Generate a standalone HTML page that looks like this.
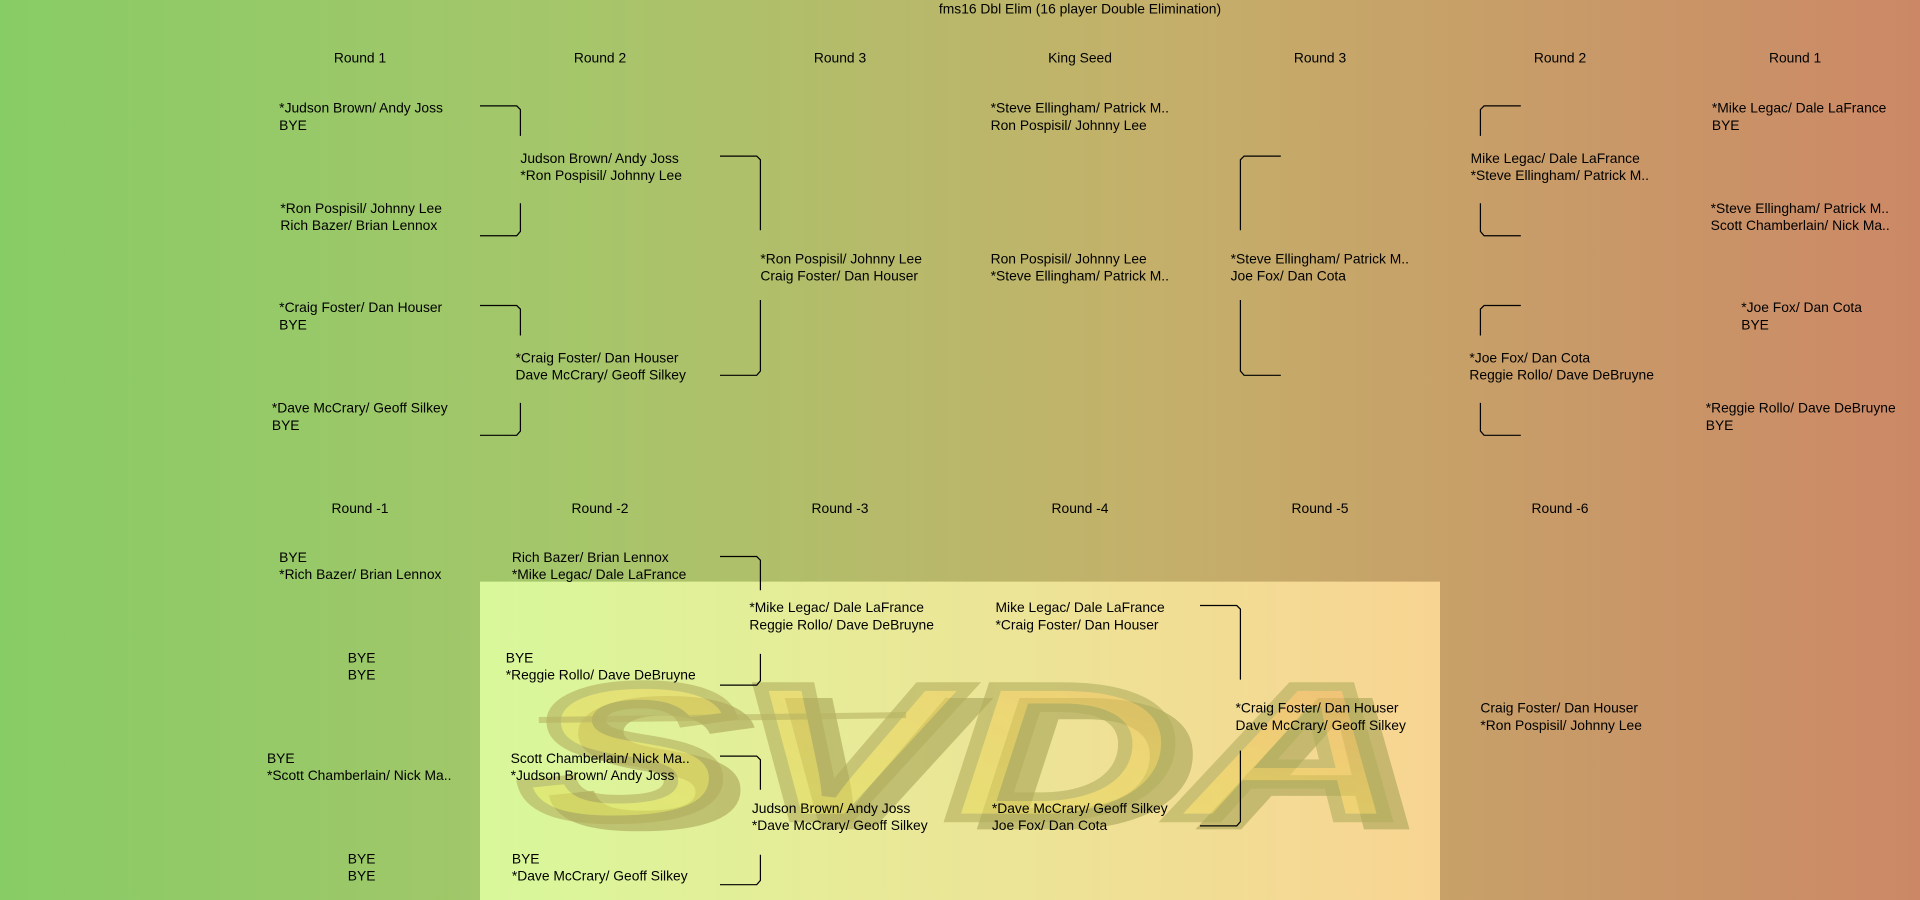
<!DOCTYPE html>
<html><head><meta charset="utf-8"><style>
html,body{margin:0;padding:0;width:1920px;height:900px;overflow:hidden}
#w{position:absolute;left:0;top:0;width:1568px;height:735px;transform:scale(1.22449);transform-origin:0 0;
background:linear-gradient(to right,#88cc66 0%,#a6c66a 30%,#c4b06a 60%,#cc8866 100%);font-family:"Liberation Sans",sans-serif;font-size:11.3px;color:#000}
.t{position:absolute;line-height:14px;white-space:nowrap;margin-top:1px}
.h{position:absolute;transform:translateX(-50%);white-space:nowrap;line-height:14px;margin-top:1px}
#ov{position:absolute;left:392px;top:475px;width:784px;height:260px;background:linear-gradient(to right,#d8f89a,#e8ea98 40%,#f8d492)}
svg{position:absolute;left:0;top:0}
</style></head><body><div id="w">
<div id="ov"></div>
<svg width="1568" height="735">
<defs><linearGradient id="lg" x1="0" y1="1" x2="1" y2="0"><stop offset="0" stop-color="#dce860"/><stop offset="0.6" stop-color="#ecd060"/><stop offset="1" stop-color="#f0a868"/></linearGradient></defs>
<g font-family="Liberation Sans" font-weight="bold" font-style="italic" font-size="200" transform="translate(0,668) scale(1,0.78) translate(0,-668)">
<text x="445" y="680" textLength="725" lengthAdjust="spacingAndGlyphs" fill="#a8a458" opacity="0.6">SVDA</text>
<text x="425" y="668" textLength="725" lengthAdjust="spacingAndGlyphs" fill="url(#lg)" stroke="#b2ae5e" stroke-width="9" opacity="0.6">SVDA</text>
</g>
<line x1="440" y1="588" x2="740" y2="584" stroke="#b8b464" stroke-width="5" opacity="0.6"/>
<g fill="none" stroke="#000" stroke-width="1">
<path d="M392 86.5H422L425 89.5V111M425 166V189L422 192.5H392"/>
<path d="M392 249.5H422L425 252.5V274M425 329V352L422 355.5H392"/>
<path d="M588 127.5H618L621 130.5V188M621 245V303L618 306.5H588"/>
<path d="M1046 127.5H1016L1013 130.5V188M1013 245V303L1016 306.5H1046"/>
<path d="M1242 86.5H1212L1209 89.5V111M1209 166V189L1212 192.5H1242"/>
<path d="M1242 249.5H1212L1209 252.5V274M1209 329V352L1212 355.5H1242"/>
<path d="M588 454.5H618L621 457.5V482M621 534V556L618 559.5H588"/>
<path d="M588 617.5H618L621 620.5V645M621 698V719L618 722.5H588"/>
<path d="M980 494.5H1010L1013 497.5V555M1013 613V671L1010 674.5H980"/>
</g></svg>
<div class="h" style="left:882px;top:0">fms16 Dbl Elim (16 player Double Elimination)</div>
<div class="h" style="left:294px;top:40px">Round 1</div><div class="h" style="left:490px;top:40px">Round 2</div><div class="h" style="left:686px;top:40px">Round 3</div><div class="h" style="left:882px;top:40px">King Seed</div><div class="h" style="left:1078px;top:40px">Round 3</div><div class="h" style="left:1274px;top:40px">Round 2</div><div class="h" style="left:1466px;top:40px">Round 1</div>
<div class="h" style="left:294px;top:408px">Round -1</div><div class="h" style="left:490px;top:408px">Round -2</div><div class="h" style="left:686px;top:408px">Round -3</div><div class="h" style="left:882px;top:408px">Round -4</div><div class="h" style="left:1078px;top:408px">Round -5</div><div class="h" style="left:1274px;top:408px">Round -6</div>
<div class="t" style="left:228px;top:81px">*Judson Brown/ Andy Joss<br>BYE</div>
<div class="t" style="left:229px;top:163px">*Ron Pospisil/ Johnny Lee<br>Rich Bazer/ Brian Lennox</div>
<div class="t" style="left:228px;top:244px">*Craig Foster/ Dan Houser<br>BYE</div>
<div class="t" style="left:222px;top:326px">*Dave McCrary/ Geoff Silkey<br>BYE</div>
<div class="t" style="left:425px;top:122px">Judson Brown/ Andy Joss<br>*Ron Pospisil/ Johnny Lee</div>
<div class="t" style="left:421px;top:285px">*Craig Foster/ Dan Houser<br>Dave McCrary/ Geoff Silkey</div>
<div class="t" style="left:621px;top:204px">*Ron Pospisil/ Johnny Lee<br>Craig Foster/ Dan Houser</div>
<div class="t" style="left:809px;top:81px">*Steve Ellingham/ Patrick M..<br>Ron Pospisil/ Johnny Lee</div>
<div class="t" style="left:809px;top:204px">Ron Pospisil/ Johnny Lee<br>*Steve Ellingham/ Patrick M..</div>
<div class="t" style="left:1005px;top:204px">*Steve Ellingham/ Patrick M..<br>Joe Fox/ Dan Cota</div>
<div class="t" style="left:1201px;top:122px">Mike Legac/ Dale LaFrance<br>*Steve Ellingham/ Patrick M..</div>
<div class="t" style="left:1200px;top:285px">*Joe Fox/ Dan Cota<br>Reggie Rollo/ Dave DeBruyne</div>
<div class="t" style="left:1398px;top:81px">*Mike Legac/ Dale LaFrance<br>BYE</div>
<div class="t" style="left:1397px;top:163px">*Steve Ellingham/ Patrick M..<br>Scott Chamberlain/ Nick Ma..</div>
<div class="t" style="left:1422px;top:244px">*Joe Fox/ Dan Cota<br>BYE</div>
<div class="t" style="left:1393px;top:326px">*Reggie Rollo/ Dave DeBruyne<br>BYE</div>
<div class="t" style="left:228px;top:448px">BYE<br>*Rich Bazer/ Brian Lennox</div>
<div class="t" style="left:284px;top:530px">BYE<br>BYE</div>
<div class="t" style="left:218px;top:612px">BYE<br>*Scott Chamberlain/ Nick Ma..</div>
<div class="t" style="left:284px;top:694px">BYE<br>BYE</div>
<div class="t" style="left:418px;top:448px">Rich Bazer/ Brian Lennox<br>*Mike Legac/ Dale LaFrance</div>
<div class="t" style="left:413px;top:530px">BYE<br>*Reggie Rollo/ Dave DeBruyne</div>
<div class="t" style="left:417px;top:612px">Scott Chamberlain/ Nick Ma..<br>*Judson Brown/ Andy Joss</div>
<div class="t" style="left:418px;top:694px">BYE<br>*Dave McCrary/ Geoff Silkey</div>
<div class="t" style="left:612px;top:489px">*Mike Legac/ Dale LaFrance<br>Reggie Rollo/ Dave DeBruyne</div>
<div class="t" style="left:614px;top:653px">Judson Brown/ Andy Joss<br>*Dave McCrary/ Geoff Silkey</div>
<div class="t" style="left:813px;top:489px">Mike Legac/ Dale LaFrance<br>*Craig Foster/ Dan Houser</div>
<div class="t" style="left:810px;top:653px">*Dave McCrary/ Geoff Silkey<br>Joe Fox/ Dan Cota</div>
<div class="t" style="left:1009px;top:571px">*Craig Foster/ Dan Houser<br>Dave McCrary/ Geoff Silkey</div>
<div class="t" style="left:1209px;top:571px">Craig Foster/ Dan Houser<br>*Ron Pospisil/ Johnny Lee</div>
</div></body></html>
